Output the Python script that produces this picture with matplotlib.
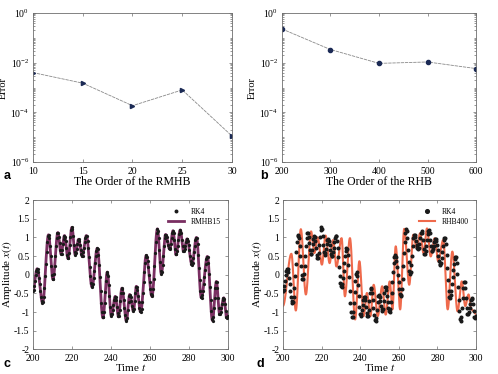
import numpy as np
import matplotlib
matplotlib.use("Agg")
import matplotlib.pyplot as plt
from matplotlib.ticker import LogLocator, FixedLocator, NullFormatter

plt.rcParams['font.family'] = ['Liberation Serif', 'DejaVu Serif']
plt.rcParams['mathtext.fontset'] = 'stix'
plt.rcParams['axes.unicode_minus'] = False
plt.rcParams['font.size'] = 6.5

# panel a / b: error against order
order_rmhb = [10, 15, 20, 25, 30]
err_rmhb = [4.0e-3, 1.5e-3, 1.85e-4, 8.0e-4, 1.1e-5]
order_rhb = [200, 300, 400, 500, 600]
err_rhb = [0.23, 0.034, 9.4e-3, 1.07e-2, 5.8e-3]

# panel c / d: peaks and troughs of the responses
rk4_t = [200, 202.2, 205, 208, 210.3, 212.8, 214.5, 216.2, 218, 220, 221.7, 223.4,
         225.3, 227.4, 230.3, 233, 235.9, 238.1, 240.2, 242.2, 243.9, 245.6, 247.9,
         249.6, 251.5, 253, 255.2, 258.1, 261, 263.8, 265.8, 268, 270.1, 271.8, 273.3,
         275.5, 277.2, 279, 281.5, 283.8, 286.3, 289.4, 292, 294, 295.7, 297.8, 299.3, 300]
rk4_x = [-0.44, 0.16, -0.76, 1.07, -0.13, 1.13, 0.55, 1.05, 0.43, 1.27, 0.53, 0.95,
         0.49, 1.05, -0.33, 0.71, -1.16, 0.07, -1.11, -0.58, -1.13, -0.36, -1.24,
         -0.53, -0.98, -0.31, -1.0, 0.52, -0.58, 1.23, 0.02, 1.08, 0.68, 1.18, 0.53,
         1.2, 0.62, 0.96, 0.27, 1.0, -0.62, 0.49, -1.23, -0.18, -1.07, -0.62, -1.16, -1.07]

rhb_t = [200, 204.4, 206.7, 209.3, 211.9, 214.6, 216.3, 218, 220.2, 222.1, 224.2, 226,
         227.7, 230.4, 232.1, 234.7, 237.4, 239.6, 241.8, 243.5, 245.3, 247, 249.1,
         251.4, 253.2, 255.3, 256.7, 258.4, 260.7, 262.8, 265.4, 267.5, 269.3, 271,
         272.8, 274.6, 276.5, 278.6, 280.4, 283, 285.3, 287.7, 290.4, 292.6, 294.4,
         296.1, 297.5, 300]
rhb_x = [-0.84, 0.56, -0.96, 1.22, -0.53, 1.16, 0.58, 1.0, 0.27, 1.05, 0.31, 0.93,
         0.22, 0.98, -0.58, 0.98, -1.2, 0.36, -1.11, -0.49, -1.11, -0.27, -1.11,
         -0.31, -1.07, -0.18, -0.93, 0.76, -0.93, 1.23, -0.27, 1.07, 0.71, 1.11,
         0.58, 1.24, 0.49, 0.98, 0.36, 0.93, -0.93, 0.62, -0.98, -0.18, -0.84,
         -0.53, -0.93, -1.05]


def wave(t_ext, x_ext, t):
    # smooth half-cosine between successive extrema
    t_ext = np.asarray(t_ext)
    x_ext = np.asarray(x_ext)
    i = np.clip(np.searchsorted(t_ext, t, side='right') - 1, 0, len(t_ext) - 2)
    s = (t - t_ext[i]) / (t_ext[i + 1] - t_ext[i])
    return x_ext[i] + (x_ext[i + 1] - x_ext[i]) * (1 - np.cos(np.pi * s)) / 2


t_line = np.linspace(200, 300, 2000)
t_dots = np.arange(200, 300.01, 0.35)

frame = '#6e6e6e'
navy = '#1b2a55'


def style(ax):
    for s in ax.spines.values():
        s.set_color(frame)
        s.set_linewidth(0.6)
    ax.tick_params(which='both', direction='in', top=True, right=True,
                   color=frame, width=0.5, labelsize=7)
    ax.tick_params(axis='x', pad=3.5)
    ax.tick_params(axis='y', pad=2.5)
    ax.tick_params(which='major', length=2.5)
    ax.tick_params(which='minor', length=1.5)


fig = plt.figure(figsize=(4.98, 3.74), dpi=100)
axa = fig.add_axes([0.066, 0.567, 0.400, 0.398])
axb = fig.add_axes([0.566, 0.567, 0.390, 0.398])
axc = fig.add_axes([0.066, 0.066, 0.392, 0.399])
axd = fig.add_axes([0.568, 0.066, 0.388, 0.399])

for ax, xs, ys, mk, xl in [(axa, order_rmhb, err_rmhb, '>', 'The Order of the RMHB'),
                           (axb, order_rhb, err_rhb, 'o', 'The Order of the RHB')]:
    ax.plot(xs, ys, color='#8a8a8a', lw=0.6, ls=(0, (4, 1)), marker=mk,
            ms=3, mfc=navy, mec=navy)
    ax.set_yscale('log')
    ax.set_ylim(1e-6, 1)
    ax.set_xlim(xs[0], xs[-1])
    ax.set_xticks(xs)
    ax.yaxis.set_major_locator(FixedLocator([1e-6, 1e-4, 1e-2, 1]))
    ax.yaxis.set_minor_locator(LogLocator(base=10, subs='all', numticks=20))
    ax.yaxis.set_minor_formatter(NullFormatter())
    ax.set_ylabel('Error', fontsize=7.5, labelpad=2)
    ax.set_xlabel(xl, fontsize=8.5, labelpad=0)
    style(ax)

for ax, tx, xx, col, lab, lw, ms in [(axc, rk4_t, rk4_x, '#7a2f62', 'RMHB15', 2.0, 1.3),
                                     (axd, rhb_t, rhb_x, '#ef6a4c', 'RHB400', 1.5, 1.9)]:
    ax.plot(t_dots, wave(rk4_t, rk4_x, t_dots), 'o', color='#1a1a1a', ms=ms,
            label='RK4', zorder=3)
    ax.plot(t_line, wave(tx, xx, t_line), color=col, lw=lw, label=lab, zorder=2)
    ax.set_xlim(200, 300)
    ax.set_ylim(-2, 2)
    ax.set_xticks(np.arange(200, 301, 20))
    ax.set_yticks(np.arange(-2, 2.01, 0.5))
    ax.set_yticklabels(['-2', '-1.5', '-1', '-0.5', '0', '0.5', '1', '1.5', '2'])
    ax.set_xlabel('Time $t$', fontsize=8, labelpad=-0.5)
    ax.set_ylabel('Amplitude $x(t)$', fontsize=8, labelpad=0)
    leg = ax.legend(loc='upper right', frameon=False, fontsize=5.5, handlelength=2.2,
                    borderaxespad=0.6, labelspacing=0.3, markerscale=1.4)
    style(ax)

for lbl, x, y in [('a', 0.008, 0.522), ('b', 0.522, 0.522),
                  ('c', 0.008, 0.018), ('d', 0.515, 0.018)]:
    fig.text(x, y, lbl, fontsize=9, fontweight='bold', family='Liberation Sans')

fig.savefig('out.png', dpi=100)
